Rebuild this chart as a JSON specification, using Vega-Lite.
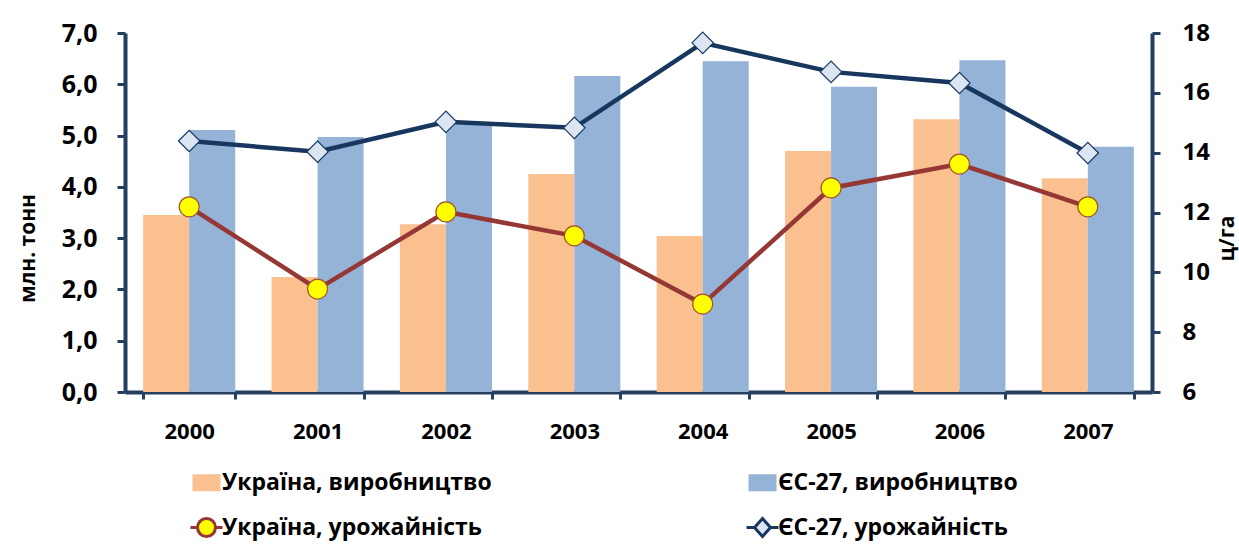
{
  "$schema": "https://vega.github.io/schema/vega-lite/v6.json",
  "autosize": {"type": "none"},
  "padding": {"left": 125, "top": 33, "right": 87, "bottom": 157},
  "width": 1027,
  "height": 359,
  "background": "white",
  "config": {
    "font": "Open Sans",
    "view": {"stroke": null},
    "axis": {"grid": false, "labelFontWeight": "bold", "labelColor": "black", "titleFontWeight": "bold", "titleColor": "black", "domainColor": "#243F60", "tickColor": "#243F60"}
  },
  "data": {
    "values": [
      {"year": "2000", "series": "Україна, виробництво", "value": 3.45},
      {"year": "2001", "series": "Україна, виробництво", "value": 2.24},
      {"year": "2002", "series": "Україна, виробництво", "value": 3.27},
      {"year": "2003", "series": "Україна, виробництво", "value": 4.25},
      {"year": "2004", "series": "Україна, виробництво", "value": 3.04},
      {"year": "2005", "series": "Україна, виробництво", "value": 4.70},
      {"year": "2006", "series": "Україна, виробництво", "value": 5.32},
      {"year": "2007", "series": "Україна, виробництво", "value": 4.17},
      {"year": "2000", "series": "ЄС-27, виробництво", "value": 5.11},
      {"year": "2001", "series": "ЄС-27, виробництво", "value": 4.97},
      {"year": "2002", "series": "ЄС-27, виробництво", "value": 5.26},
      {"year": "2003", "series": "ЄС-27, виробництво", "value": 6.16},
      {"year": "2004", "series": "ЄС-27, виробництво", "value": 6.45},
      {"year": "2005", "series": "ЄС-27, виробництво", "value": 5.95},
      {"year": "2006", "series": "ЄС-27, виробництво", "value": 6.47},
      {"year": "2007", "series": "ЄС-27, виробництво", "value": 4.78},
      {"year": "2000", "series": "Україна, урожайність", "value": 12.19},
      {"year": "2001", "series": "Україна, урожайність", "value": 9.44},
      {"year": "2002", "series": "Україна, урожайність", "value": 12.02},
      {"year": "2003", "series": "Україна, урожайність", "value": 11.22},
      {"year": "2004", "series": "Україна, урожайність", "value": 8.94},
      {"year": "2005", "series": "Україна, урожайність", "value": 12.82},
      {"year": "2006", "series": "Україна, урожайність", "value": 13.62},
      {"year": "2007", "series": "Україна, урожайність", "value": 12.19},
      {"year": "2000", "series": "ЄС-27, урожайність", "value": 14.39},
      {"year": "2001", "series": "ЄС-27, урожайність", "value": 14.03},
      {"year": "2002", "series": "ЄС-27, урожайність", "value": 15.03},
      {"year": "2003", "series": "ЄС-27, урожайність", "value": 14.83},
      {"year": "2004", "series": "ЄС-27, урожайність", "value": 17.67},
      {"year": "2005", "series": "ЄС-27, урожайність", "value": 16.70},
      {"year": "2006", "series": "ЄС-27, урожайність", "value": 16.33},
      {"year": "2007", "series": "ЄС-27, урожайність", "value": 13.99}
    ]
  },
  "encoding": {
    "x": {
      "field": "year", "type": "nominal",
      "scale": {"paddingInner": 0.283, "paddingOuter": 0.1415},
      "axis": {"title": null, "labelAngle": 0, "labelFontSize": 22, "labelPadding": 22, "tickBand": "extent", "tickSize": 7, "tickWidth": 3, "domainWidth": 4}
    }
  },
  "layer": [
    {
      "transform": [{"filter": {"field": "series", "oneOf": ["Україна, виробництво", "ЄС-27, виробництво"]}}],
      "mark": {"type": "bar"},
      "encoding": {
        "xOffset": {"field": "series", "type": "nominal", "scale": {"domain": ["Україна, виробництво", "ЄС-27, виробництво"], "paddingInner": 0, "paddingOuter": 0}},
        "y": {
          "field": "value", "type": "quantitative",
          "scale": {"domain": [0, 7], "nice": false, "zero": true},
          "axis": {"title": "млн. тонн", "titleFontSize": 21, "titleAngle": 270, "titleBaseline": "alphabetic", "titleX": -91, "titleY": 215, "values": [0, 1, 2, 3, 4, 5, 6, 7], "labelExpr": "replace(format(datum.value, '.1f'), '.', ',')", "labelFontSize": 25, "labelPadding": 20, "tickSize": 8, "tickWidth": 3, "domainWidth": 4}
        },
        "fill": {
          "field": "series", "type": "nominal",
          "scale": {"domain": ["Україна, виробництво", "ЄС-27, виробництво", "Україна, урожайність", "ЄС-27, урожайність"], "range": ["#FAC090", "#95B3D7", "#FFFF00", "#DCE6F2"]},
          "legend": {
            "title": null, "orient": "none", "legendX": 70, "legendY": 438, "columns": 2, "direction": "horizontal",
            "symbolSize": 400, "labelFontSize": 23, "labelFontWeight": "bold", "labelColor": "black", "labelOffset": 4, "rowPadding": 17, "columnPadding": 248, "labelLimit": 400,
            "encoding": {
              "symbols": {
                "shape": {"value": {"expr": "datum.value == 'Україна, урожайність' ? 'M-1.6,0L-0.9,0M0.9,0L1.6,0M0.9,0A0.9,0.9 0 1 1 -0.9,0A0.9,0.9 0 1 1 0.9,0Z' : datum.value == 'ЄС-27, урожайність' ? 'M-1.6,0L-0.8,0M0.8,0L1.6,0M0,-0.9L0.8,0L0,0.9L-0.8,0Z' : 'M-1.4,-0.85L1.4,-0.85L1.4,0.85L-1.4,0.85Z'"}},
                "stroke": {"value": {"expr": "datum.value == 'Україна, урожайність' ? '#953735' : datum.value == 'ЄС-27, урожайність' ? '#17375E' : 'transparent'"}},
                "strokeWidth": {"value": {"expr": "datum.value == 'Україна, урожайність' || datum.value == 'ЄС-27, урожайність' ? 3 : 0"}},
                "opacity": {"value": 1},
                "fillOpacity": {"value": 1}
              }
            }
          }
        }
      }
    },
    {
      "transform": [{"filter": {"field": "series", "oneOf": ["Україна, урожайність", "ЄС-27, урожайність"]}}],
      "encoding": {
        "y": {
          "field": "value", "type": "quantitative",
          "scale": {"domain": [6, 18], "nice": false, "zero": false},
          "axis": {"orient": "right", "title": "ц/га", "titleAngle": 270, "titleBaseline": "alphabetic", "titleFontSize": 21, "titleX": 81, "titleY": 205, "values": [6, 8, 10, 12, 14, 16, 18], "labelFontSize": 24, "labelPadding": 22, "tickSize": 8, "tickWidth": 3, "domainWidth": 4}
        }
      },
      "layer": [
        {
          "mark": {"type": "line", "strokeWidth": 4.5},
          "encoding": {
            "stroke": {"field": "series", "type": "nominal", "scale": {"domain": ["Україна, урожайність", "ЄС-27, урожайність"], "range": ["#953735", "#17375E"]}, "legend": null}
          }
        },
        {
          "mark": {"type": "point", "filled": true, "opacity": 1, "strokeWidth": 1.2},
          "encoding": {
            "shape": {"condition": {"test": "datum.series == 'Україна, урожайність'", "value": "circle"}, "value": "diamond"},
            "fill": {"condition": {"test": "datum.series == 'Україна, урожайність'", "value": "#FFFF00"}, "value": "#DCE6F2"},
            "stroke": {"condition": {"test": "datum.series == 'Україна, урожайність'", "value": "#A0522D"}, "value": "#17375E"},
            "size": {"condition": {"test": "datum.series == 'Україна, урожайність'", "value": 400}, "value": 460}
          }
        }
      ]
    }
  ],
  "resolve": {"scale": {"y": "independent"}}
}
